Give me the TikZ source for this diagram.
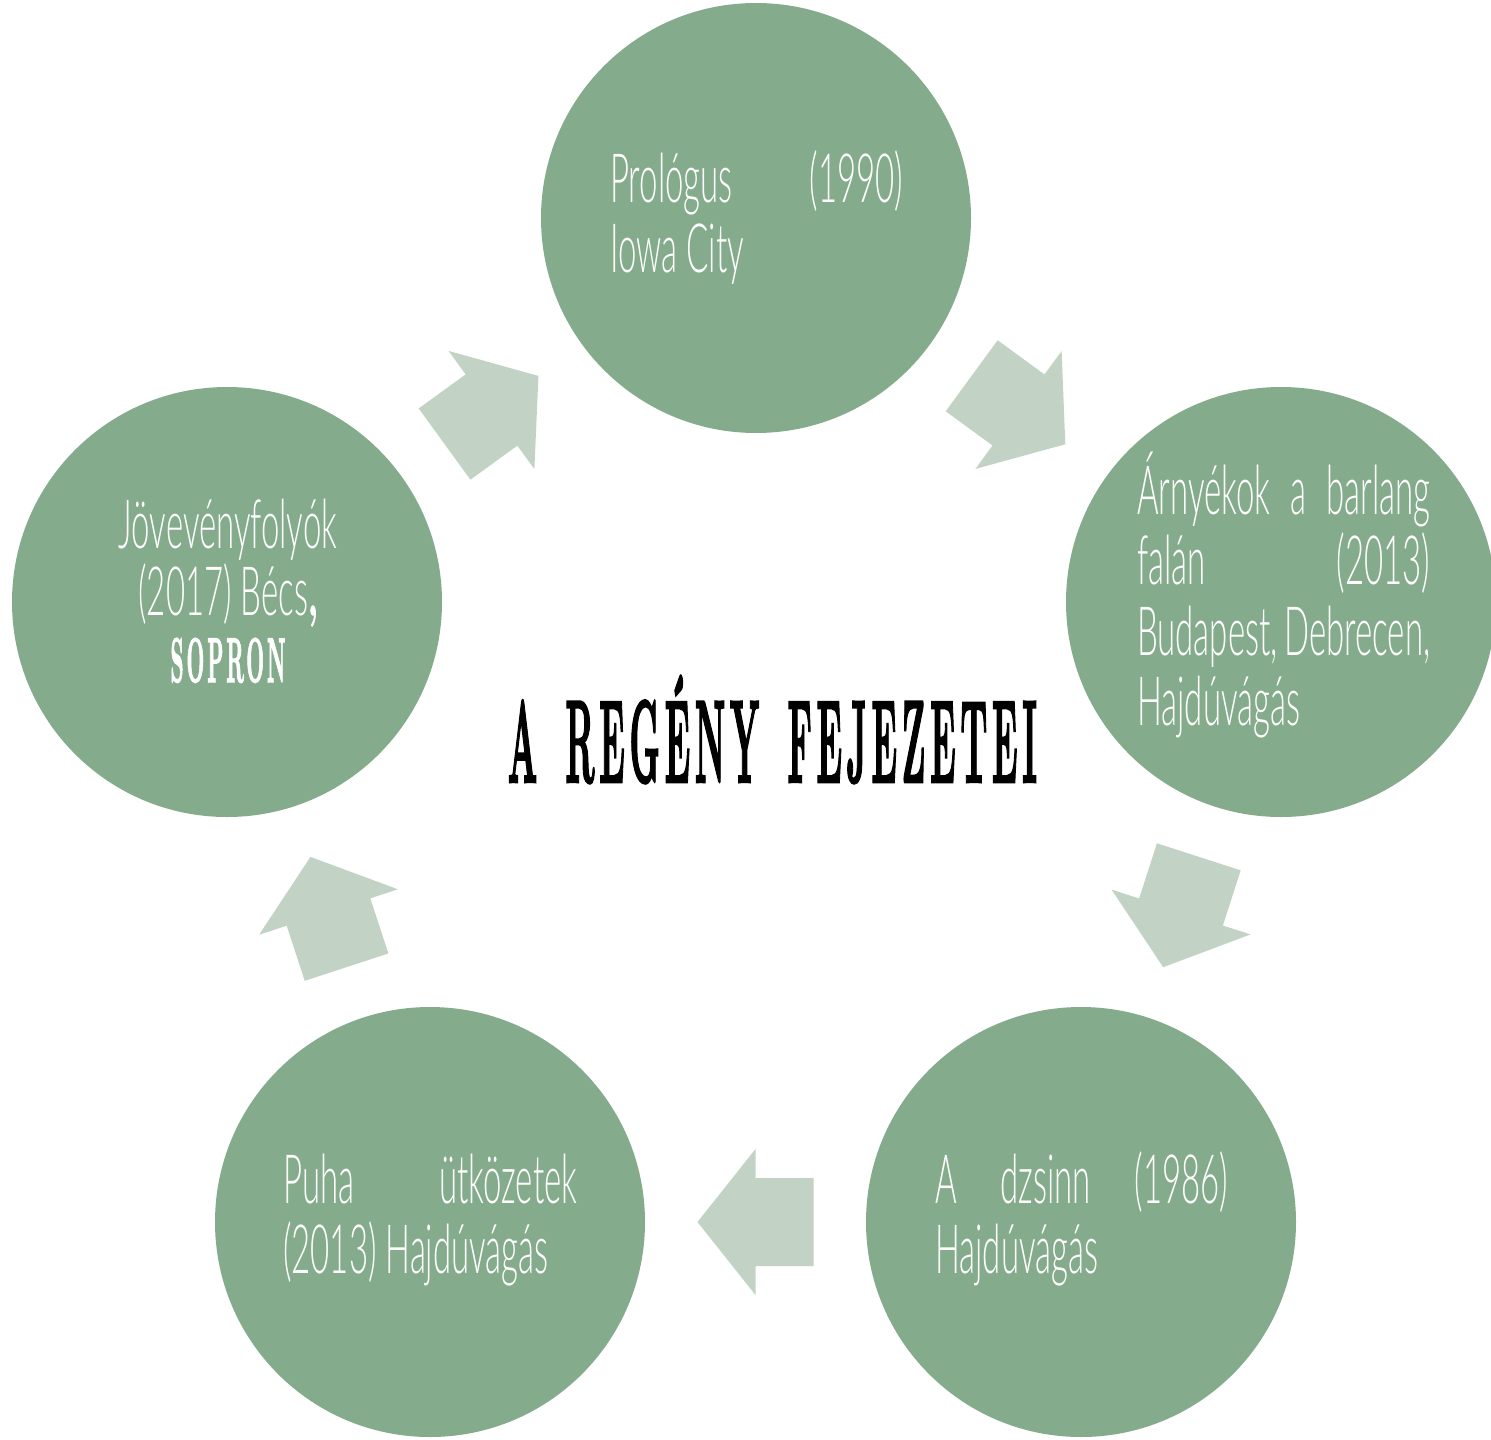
\documentclass[tikz,border=0pt]{standalone}
\usepackage{fontspec}
\usepackage{graphicx}
\usetikzlibrary{calc}
\newfontfamily\bodyfont{Lato Light}[FakeStretch=0.485]
\newfontfamily\headfont{lmroman10-bold.otf}[LetterSpace=14, FakeBold=2.5, WordSpace=1.6]
\definecolor{circfill}{HTML}{84AB8B}
\definecolor{arrfill}{HTML}{C2D2C4}
\newcommand\cyclearrow[2]{%
  \coordinate (am) at ($(#1)!0.5!(#2)$);
  \coordinate (at) at ($(am)!-58pt!(#2)$);
  \coordinate (ap) at ($(am)!58pt!(#2)$);
  \fill[blockarrow]
    ($(at)!44pt!90:(#2)$) -- ($(at)!44pt!-90:(#2)$) --
    ($(am)!44pt!-90:(#2)$) -- ($(am)!73pt!-90:(#2)$) --
    (ap) --
    ($(am)!73pt!90:(#2)$) -- ($(am)!44pt!90:(#2)$) -- cycle;
}
\begin{document}
\begin{tikzpicture}[x=1pt,y=-1pt,
  chapter/.style={circle, fill=circfill, draw=none, minimum size=430pt, inner sep=0pt},
  blockarrow/.style={fill=arrfill, draw=none},
  bodytext/.style={text=white, inner sep=0pt, font=\bodyfont\fontsize{68}{70.5}\selectfont},
  headtext/.style={inner sep=0pt, font=\headfont}]
\useasboundingbox (0,0) rectangle (1491,1440);
\node[chapter] (c1) at (756,218) {};
\node[chapter] (c2) at (1281,602) {};
\node[chapter] (c3) at (1081,1222) {};
\node[chapter] (c4) at (430,1222) {};
\node[chapter] (c5) at (227,602) {};
\cyclearrow{c1}{c2}
\cyclearrow{c2}{c3}
\cyclearrow{c3}{c4}
\cyclearrow{c4}{c5}
\cyclearrow{c5}{c1}
\node[bodytext, anchor=base west] (t1) at (610,202)
  {\parbox[t]{293pt}{\raggedright\makebox[293pt][s]{Prológus (1990)}\\Iowa City}};
\node[bodytext, anchor=base west] (t2) at (1137,514)
  {\parbox[t]{293pt}{\raggedright\makebox[293pt][s]{Árnyékok a barlang}\\\makebox[293pt][s]{falán (2013)}\\\makebox[293pt][s]{Budapest, Debrecen,}\\Hajdúvágás}};
\node[bodytext, anchor=base west] (t3) at (935,1203)
  {\parbox[t]{293pt}{\raggedright\makebox[293pt][s]{A dzsinn (1986)}\\Hajdúvágás}};
\node[bodytext, anchor=base west] (t4) at (283,1203)
  {\parbox[t]{294pt}{\raggedright\makebox[294pt][s]{Puha ütközetek}\\(2013) Hajdúvágás}};
\node[bodytext, anchor=base] (t5a) at (228,548) {Jövevényfolyók};
\node[bodytext, anchor=base] (t5b) at (228,615) {(2017) Bécs{\headfont\fontsize{58}{58}\selectfont\scalebox{0.5}[1]{,}}};
\node[headtext, text=white, anchor=base] (t5c) at (228,682)
  {\resizebox{115pt}{\height}{\fontsize{63}{63}\selectfont SOPRON}};
\node[headtext, text=black, anchor=base] (title) at (772.5,782)
  {\resizebox{529pt}{\height}{\fontsize{117}{117}\selectfont A REGÉNY FEJEZETEI}};
\end{tikzpicture}
\end{document}
